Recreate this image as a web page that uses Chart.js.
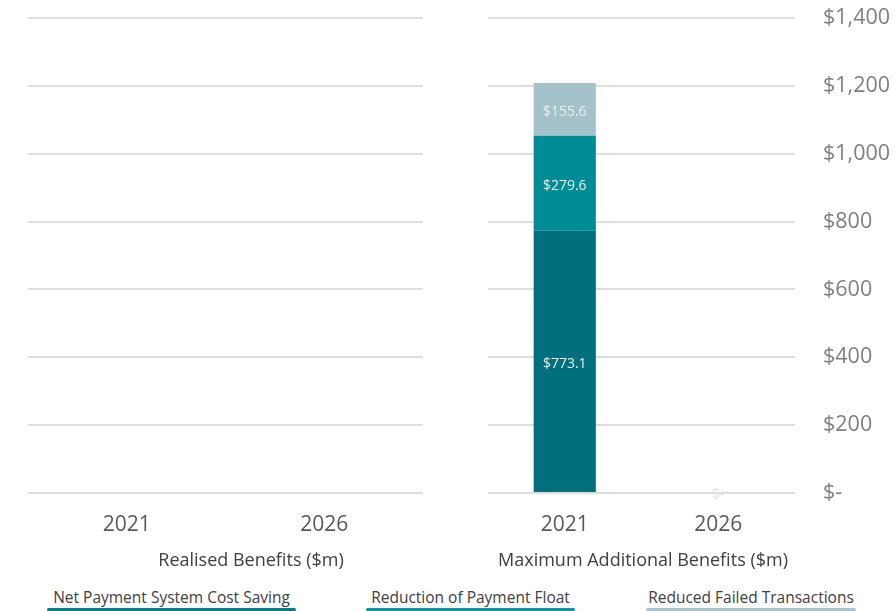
<!DOCTYPE html>
<html>
<head>
<meta charset="utf-8">
<script src="https://cdn.jsdelivr.net/npm/chart.js@4"></script>
<style>
  body { margin: 0; background: #fff; font-family: "Open Sans", sans-serif; }
  #wrap { position: relative; width: 896px; height: 611px; overflow: hidden; }
  #leftBox { position: absolute; left: 0; top: 0; width: 450px; height: 575px; }
  #rightBox { position: absolute; left: 450px; top: 0; width: 446px; height: 575px; }
  #legend { position: absolute; left: 0; top: 587px; width: 896px; height: 24px; }
  .item { position: absolute; top: 0; font-size: 15.5px; color: #404040; text-align: center; line-height: 20px; white-space: nowrap; }
  .item span.bar { position: absolute; left: 0; right: 0; top: 21px; height: 3px; border-radius: 2px; }
</style>
</head>
<body>
<div id="wrap">
  <div id="leftBox"><canvas id="leftChart"></canvas></div>
  <div id="rightBox"><canvas id="rightChart"></canvas></div>
  <div id="legend"></div>
</div>
<script>
const years = ['2021', '2026'];
const seriesNames = ['Net Payment System Cost Saving', 'Reduction of Payment Float', 'Reduced Failed Transactions'];
const seriesColors = ['#00717c', '#008c96', '#a3c2ca'];
const legendLineColors = ['#0b7c85', '#15929b', '#a9c6ce'];

// realised benefits ($m) - nothing recorded yet
const realisedCost = [null, null];
const realisedFloat = [null, null];
const realisedFailed = [null, null];

// maximum additional benefits ($m)
const maxCost = [773.1, 0];
const maxFloat = [279.6, 0];
const maxFailed = [155.6, 0];

const yTicks = [0, 200, 400, 600, 800, 1000, 1200, 1400];

const fmtMoney = v => v === 0 ? '$-' : '$' + v.toLocaleString('en-US');

function makeDatasets(values) {
  return values.map((data, i) => ({
    label: seriesNames[i],
    data,
    backgroundColor: seriesColors[i],
    borderWidth: 0,
    barPercentage: 0.405,
    categoryPercentage: 1
  }));
}

// value labels in the middle of each segment
const segmentLabels = {
  id: 'segmentLabels',
  afterDatasetsDraw(chart) {
    const ctx = chart.ctx;
    ctx.save();
    ctx.font = '14px "Open Sans"';
    ctx.textAlign = 'center';
    ctx.textBaseline = 'middle';
    chart.data.datasets.forEach((ds, di) => {
      chart.getDatasetMeta(di).data.forEach((bar, i) => {
        const v = ds.data[i];
        if (v === null || v === undefined) return;
        if (v === 0) {
          if (di !== 0) return;
          ctx.fillStyle = '#e4e4e4';
          ctx.fillText('$-', bar.x, bar.y + 2);
          return;
        }
        ctx.fillStyle = '#e6f1f2';
        ctx.fillText('$' + v.toFixed(1), bar.x, (bar.y + bar.base) / 2 + 2.5);
      });
    });
    ctx.restore();
  }
};

// panel caption under the year labels
const panelTitle = {
  id: 'panelTitle',
  afterDraw(chart, args, opts) {
    const ctx = chart.ctx;
    ctx.save();
    ctx.font = '18px "Open Sans"';
    ctx.fillStyle = '#404040';
    ctx.textAlign = 'center';
    ctx.textBaseline = 'middle';
    ctx.fillText(opts.text, opts.x, opts.y);
    ctx.restore();
  }
};

function buildOptions(showAxis, pad, title) {
  return {
    responsive: true,
    maintainAspectRatio: false,
    animation: false,
    layout: { padding: pad },
    plugins: {
      legend: { display: false },
      tooltip: { enabled: false },
      panelTitle: title
    },
    scales: {
      x: {
        stacked: true,
        grid: { display: false, drawTicks: false },
        border: { display: false },
        ticks: { color: '#595959', font: { family: 'Open Sans', size: 21 }, padding: 19.5 },
        afterFit(scale) { scale.height = 82; }
      },
      y: {
        stacked: true,
        display: true,
        position: 'right',
        min: 0,
        max: 1400,
        afterBuildTicks(scale) { scale.ticks = yTicks.map(value => ({ value })); },
        grid: { color: '#dedede', lineWidth: 2, drawTicks: false },
        border: { display: false },
        ticks: {
          display: showAxis,
          color: '#7f7f7f',
          font: { family: 'Open Sans', size: 21.5 },
          padding: 28,
          callback: v => fmtMoney(v)
        },
        afterFit(scale) {
          scale.width = showAxis ? 101 : 0;
          scale.paddingTop = 0;
          scale.paddingBottom = 0;
        }
      }
    }
  };
}

new Chart(document.getElementById('leftChart'), {
  type: 'bar',
  data: { labels: years, datasets: makeDatasets([realisedCost, realisedFloat, realisedFailed]) },
  options: buildOptions(false, { left: 28, right: 27, top: 18, bottom: 0 },
    { text: 'Realised Benefits ($m)', x: 251, y: 561 }),
  plugins: [segmentLabels, panelTitle]
});

new Chart(document.getElementById('rightChart'), {
  type: 'bar',
  data: { labels: years, datasets: makeDatasets([maxCost, maxFloat, maxFailed]) },
  options: buildOptions(true, { left: 38, right: 0, top: 18, bottom: 0 },
    { text: 'Maximum Additional Benefits ($m)', x: 193, y: 561 }),
  plugins: [segmentLabels, panelTitle]
});

// legend: caption with a coloured rule underneath
const legendSpots = [[47, 249], [366, 209], [646, 210]];
const legend = document.getElementById('legend');
seriesNames.forEach((name, i) => {
  const item = document.createElement('div');
  item.className = 'item';
  item.style.left = legendSpots[i][0] + 'px';
  item.style.width = legendSpots[i][1] + 'px';
  item.textContent = name;
  const bar = document.createElement('span');
  bar.className = 'bar';
  bar.style.background = legendLineColors[i];
  item.appendChild(bar);
  legend.appendChild(item);
});
</script>
</body>
</html>
